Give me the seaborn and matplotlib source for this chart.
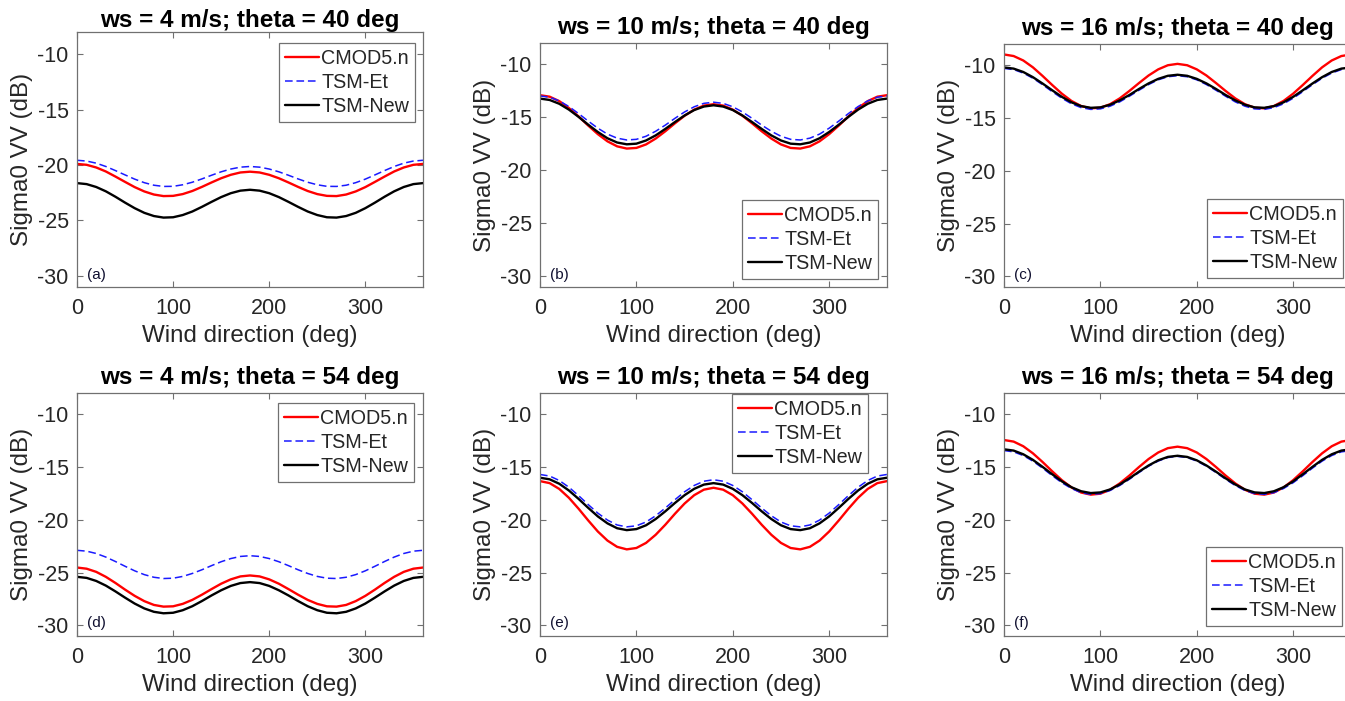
import matplotlib
matplotlib.use("Agg")
import matplotlib.pyplot as plt
import seaborn as sns
import pandas as pd

# ---------------- data ----------------
wind_dir = list(range(0, 361, 10))
series_names = ["CMOD5.n", "TSM-Et", "TSM-New"]
titles = ["ws = 4 m/s; theta = 40 deg", "ws = 10 m/s; theta = 40 deg", "ws = 16 m/s; theta = 40 deg",
          "ws = 4 m/s; theta = 54 deg", "ws = 10 m/s; theta = 54 deg", "ws = 16 m/s; theta = 54 deg"]
panel_tags = ["(a)", "(b)", "(c)", "(d)", "(e)", "(f)"]
x_ticks = [0, 100, 200, 300]
y_ticks = [-30, -25, -20, -15, -10]
x_label = "Wind direction (deg)"
y_label = "Sigma0 VV (dB)"

a_cmod = [-19.90, -19.98, -20.22, -20.58, -21.04, -21.52, -21.99, -22.38, -22.66, -22.80, -22.78, -22.62, -22.34, -21.97, -21.57, -21.19, -20.88, -20.67, -20.60,
          -20.67, -20.88, -21.19, -21.57, -21.97, -22.34, -22.62, -22.78, -22.80, -22.66, -22.38, -21.99, -21.52, -21.04, -20.58, -20.22, -19.98, -19.90]
a_et = [-19.57, -19.64, -19.83, -20.13, -20.50, -20.89, -21.27, -21.59, -21.82, -21.93, -21.92, -21.78, -21.55, -21.25, -20.92, -20.61, -20.36, -20.19, -20.13,
        -20.19, -20.36, -20.61, -20.92, -21.25, -21.55, -21.78, -21.92, -21.93, -21.82, -21.59, -21.27, -20.89, -20.50, -20.13, -19.83, -19.64, -19.57]
a_new = [-21.63, -21.72, -21.98, -22.37, -22.86, -23.39, -23.89, -24.31, -24.60, -24.74, -24.71, -24.51, -24.19, -23.77, -23.32, -22.89, -22.54, -22.31, -22.23,
         -22.31, -22.54, -22.89, -23.32, -23.77, -24.19, -24.51, -24.71, -24.74, -24.60, -24.31, -23.89, -23.39, -22.86, -22.37, -21.98, -21.72, -21.63]

b_cmod = [-12.92, -13.06, -13.48, -14.13, -14.92, -15.78, -16.59, -17.27, -17.74, -17.95, -17.89, -17.56, -17.01, -16.32, -15.57, -14.86, -14.28, -13.90, -13.77,
          -13.90, -14.28, -14.86, -15.57, -16.32, -17.01, -17.56, -17.89, -17.95, -17.74, -17.27, -16.59, -15.78, -14.92, -14.13, -13.48, -13.06, -12.92]
b_et = [-12.99, -13.11, -13.46, -13.99, -14.65, -15.36, -16.03, -16.59, -16.97, -17.14, -17.08, -16.79, -16.32, -15.74, -15.10, -14.50, -14.01, -13.69, -13.58,
        -13.69, -14.01, -14.50, -15.10, -15.74, -16.32, -16.79, -17.08, -17.14, -16.97, -16.59, -16.03, -15.36, -14.65, -13.99, -13.46, -13.11, -12.99]
b_new = [-13.24, -13.37, -13.73, -14.28, -14.96, -15.70, -16.39, -16.98, -17.38, -17.55, -17.49, -17.19, -16.71, -16.10, -15.45, -14.83, -14.32, -13.99, -13.87,
         -13.99, -14.32, -14.83, -15.45, -16.10, -16.71, -17.19, -17.49, -17.55, -17.38, -16.98, -16.39, -15.70, -14.96, -14.28, -13.73, -13.37, -13.24]

c_cmod = [-8.99, -9.14, -9.56, -10.21, -11.02, -11.88, -12.70, -13.39, -13.87, -14.09, -14.03, -13.70, -13.15, -12.45, -11.70, -10.98, -10.40, -10.01, -9.88,
          -10.01, -10.40, -10.98, -11.70, -12.45, -13.15, -13.70, -14.03, -14.09, -13.87, -13.39, -12.70, -11.88, -11.02, -10.21, -9.56, -9.14, -8.99]
c_et = [-10.31, -10.42, -10.75, -11.24, -11.85, -12.51, -13.13, -13.66, -14.02, -14.19, -14.14, -13.89, -13.48, -12.95, -12.38, -11.84, -11.39, -11.10, -11.00,
        -11.10, -11.39, -11.84, -12.38, -12.95, -13.48, -13.89, -14.14, -14.19, -14.02, -13.66, -13.13, -12.51, -11.85, -11.24, -10.75, -10.42, -10.31]
c_new = [-10.22, -10.33, -10.65, -11.14, -11.74, -12.38, -13.00, -13.52, -13.88, -14.04, -14.00, -13.75, -13.34, -12.83, -12.26, -11.73, -11.30, -11.01, -10.91,
         -11.01, -11.30, -11.73, -12.26, -12.83, -13.34, -13.75, -14.00, -14.04, -13.88, -13.52, -13.00, -12.38, -11.74, -11.14, -10.65, -10.33, -10.22]

d_cmod = [-24.52, -24.63, -24.93, -25.40, -25.98, -26.61, -27.20, -27.70, -28.06, -28.22, -28.19, -27.96, -27.58, -27.09, -26.56, -26.05, -25.64, -25.36, -25.27,
          -25.36, -25.64, -26.05, -26.56, -27.09, -27.58, -27.96, -28.19, -28.22, -28.06, -27.70, -27.20, -26.61, -25.98, -25.40, -24.93, -24.63, -24.52]
d_et = [-22.89, -22.97, -23.19, -23.53, -23.95, -24.40, -24.83, -25.19, -25.44, -25.56, -25.53, -25.36, -25.08, -24.73, -24.34, -23.97, -23.67, -23.47, -23.40,
        -23.47, -23.67, -23.97, -24.34, -24.73, -25.08, -25.36, -25.53, -25.56, -25.44, -25.19, -24.83, -24.40, -23.95, -23.53, -23.19, -22.97, -22.89]
d_new = [-25.40, -25.50, -25.79, -26.23, -26.78, -27.37, -27.93, -28.39, -28.71, -28.85, -28.80, -28.56, -28.18, -27.69, -27.16, -26.67, -26.26, -25.99, -25.90,
         -25.99, -26.26, -26.67, -27.16, -27.69, -28.18, -28.56, -28.80, -28.85, -28.71, -28.39, -27.93, -27.37, -26.78, -26.23, -25.79, -25.50, -25.40]

e_cmod = [-16.34, -16.53, -17.08, -17.92, -18.95, -20.06, -21.11, -21.97, -22.56, -22.80, -22.67, -22.19, -21.42, -20.47, -19.43, -18.46, -17.67, -17.15, -16.97,
          -17.15, -17.67, -18.46, -19.43, -20.47, -21.42, -22.19, -22.67, -22.80, -22.56, -21.97, -21.11, -20.06, -18.95, -17.92, -17.08, -16.53, -16.34]
e_et = [-15.71, -15.86, -16.28, -16.92, -17.71, -18.56, -19.37, -20.03, -20.49, -20.67, -20.57, -20.21, -19.62, -18.89, -18.10, -17.35, -16.75, -16.35, -16.21,
        -16.35, -16.75, -17.35, -18.10, -18.89, -19.62, -20.21, -20.57, -20.67, -20.49, -20.03, -19.37, -18.56, -17.71, -16.92, -16.28, -15.86, -15.71]
e_new = [-16.02, -16.17, -16.59, -17.23, -18.02, -18.87, -19.68, -20.34, -20.80, -20.98, -20.88, -20.52, -19.93, -19.20, -18.41, -17.67, -17.07, -16.67, -16.53,
         -16.67, -17.07, -17.67, -18.41, -19.20, -19.93, -20.52, -20.88, -20.98, -20.80, -20.34, -19.68, -18.87, -18.02, -17.23, -16.59, -16.17, -16.02]

f_cmod = [-12.45, -12.60, -13.04, -13.71, -14.53, -15.41, -16.25, -16.94, -17.42, -17.62, -17.53, -17.16, -16.56, -15.82, -15.01, -14.25, -13.63, -13.22, -13.08,
          -13.22, -13.63, -14.25, -15.01, -15.82, -16.56, -17.16, -17.53, -17.62, -17.42, -16.94, -16.25, -15.41, -14.53, -13.71, -13.04, -12.60, -12.45]
f_et = [-13.45, -13.57, -13.92, -14.45, -15.11, -15.82, -16.49, -17.04, -17.43, -17.59, -17.52, -17.23, -16.76, -16.17, -15.53, -14.93, -14.44, -14.11, -14.00,
        -14.11, -14.44, -14.93, -15.53, -16.17, -16.76, -17.23, -17.52, -17.59, -17.43, -17.04, -16.49, -15.82, -15.11, -14.45, -13.92, -13.57, -13.45]
f_new = [-13.33, -13.45, -13.80, -14.33, -14.99, -15.69, -16.36, -16.92, -17.30, -17.47, -17.41, -17.13, -16.66, -16.08, -15.45, -14.86, -14.37, -14.05, -13.94,
         -14.05, -14.37, -14.86, -15.45, -16.08, -16.66, -17.13, -17.41, -17.47, -17.30, -16.92, -16.36, -15.69, -14.99, -14.33, -13.80, -13.45, -13.33]

panels = [(a_cmod, a_et, a_new), (b_cmod, b_et, b_new), (c_cmod, c_et, c_new),
          (d_cmod, d_et, d_new), (e_cmod, e_et, e_new), (f_cmod, f_et, f_new)]

# ---------------- styling ----------------
sns.set_theme(style="white")
plt.rcParams["font.family"] = ["Liberation Sans", "DejaVu Sans"]
plt.rcParams["axes.unicode_minus"] = False

W, H = 1345, 701
fig = plt.figure(figsize=(W / 100, H / 100), dpi=100)


def px_rect(l, t, r, b):
    return [l / W, 1 - b / H, (r - l) / W, (b - t) / H]


rects = [px_rect(77, 32, 423, 287), px_rect(540, 43, 887, 287), px_rect(1004, 44, 1351, 287),
         px_rect(77, 393, 423, 636), px_rect(540, 393, 887, 636), px_rect(1004, 393, 1351, 636)]
title_pads = [3.0, 6.5, 6.5, 6.5, 6.5, 6.5]
# legend anchors in figure pixels: (loc, x, y)
legend_pos = [("upper left", 279, 43), ("lower right", 878, 279), ("lower right", 1343, 278),
              ("upper left", 278, 403), ("upper left", 732, 394), ("lower right", 1342, 626)]

styles = {
    "CMOD5.n": dict(color="#ff0000", lw=1.7, ls="-"),
    "TSM-Et": dict(color="#1a1aff", lw=1.1, ls=(0, (5, 2.5))),
    "TSM-New": dict(color="#000000", lw=1.7, ls="-"),
}
text_col = "#262626"
frame_col = "#707070"

for i, (rect, vals) in enumerate(zip(rects, panels)):
    ax = fig.add_axes(rect)
    for name, yv in zip(series_names, vals):
        st = styles[name]
        sns.lineplot(x=wind_dir, y=yv, ax=ax, color=st["color"], linewidth=st["lw"],
                     linestyle=st["ls"], label=name, sort=False, estimator=None)
    ax.set_xlim(0, 360)
    ax.set_ylim(-31, -8)
    ax.set_xticks(x_ticks)
    ax.set_yticks(y_ticks)
    ax.tick_params(axis="both", which="both", direction="in", length=4, width=0.8,
                   color=frame_col, labelcolor=text_col, labelsize=15.5,
                   top=True, right=True, bottom=True, left=True)
    ax.tick_params(axis="x", pad=8)
    ax.tick_params(axis="y", pad=6)
    for sp in ax.spines.values():
        sp.set_color(frame_col)
        sp.set_linewidth(0.9)
    ax.set_xlabel(x_label, fontsize=17.4, color=text_col, labelpad=4)
    ax.set_ylabel(y_label, fontsize=17.4, color=text_col, labelpad=3)
    ax.set_title(titles[i], fontsize=17.5, fontweight="bold", color="black", pad=title_pads[i])
    ax.annotate(panel_tags[i], xy=(0, 0), xycoords="axes fraction", xytext=(7, 9),
                textcoords="offset points", fontsize=11, va="center", ha="left", color="#101030")
    loc, lx, ly = legend_pos[i]
    leg = ax.legend(loc=loc, bbox_to_anchor=(lx / W, 1 - ly / H), bbox_transform=fig.transFigure,
                    borderaxespad=0, fontsize=14.2, handlelength=1.75, handletextpad=0.1,
                    labelspacing=0.25, borderpad=0.3, fancybox=False, framealpha=1,
                    edgecolor=frame_col)
    leg.get_frame().set_linewidth(0.9)
    for t in leg.get_texts():
        t.set_color(text_col)

fig.savefig("out.png", dpi=100)
